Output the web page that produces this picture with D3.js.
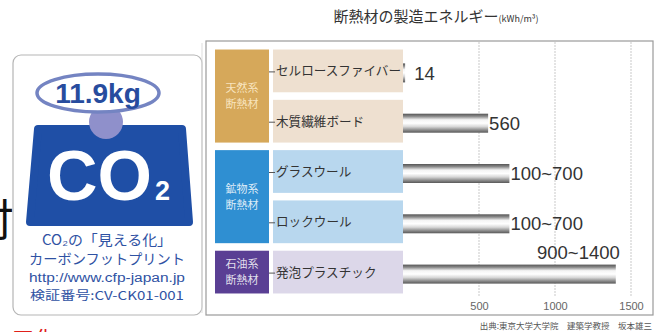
<!DOCTYPE html>
<html>
<head>
<meta charset="utf-8">
<script src="https://cdn.jsdelivr.net/npm/d3@7"></script>
<style>
body { margin: 0; background: #fff; }
svg { display: block; font-family: "Noto Sans CJK JP", sans-serif; }
</style>
</head>
<body>
<div id="chart"></div>
<script>
// data
var categories = ["セルロースファイバー", "木質繊維ボード", "グラスウール", "ロックウール", "発泡プラスチック"];
var minValues = [14, 560, 100, 100, 900];
var maxValues = [14, 560, 700, 700, 1400];
var valueLabels = ["14", "560", "100~700", "100~700", "900~1400"];
var groupNames = [["天然系", "断熱材"], ["鉱物系", "断熱材"], ["石油系", "断熱材"]];
var groupOf = [0, 0, 1, 1, 2];
var tickValues = [500, 1000, 1500];

var W = 660, H = 332;
var groupColors = ["#d6a85a", "#2f8fd2", "#5a3f94"];
var rowColors = ["#eee0d0", "#b8d7ee", "#dcd7e9"];
var numFont = '"Liberation Sans", Arial, sans-serif';

var svg = d3.select("#chart").append("svg")
    .attr("width", W)
    .attr("height", H);

var defs = svg.append("defs");
var grad = defs.append("linearGradient")
    .attr("id", "tube")
    .attr("x1", 0).attr("y1", 0).attr("x2", 0).attr("y2", 1);
[[0, "#555"], [0.14, "#8a8a8a"], [0.32, "#f4f4f4"], [0.5, "#ffffff"], [0.68, "#d8d8d8"], [0.86, "#8c8c8c"], [1, "#585858"]]
    .forEach(function(s) {
        grad.append("stop").attr("offset", s[0]).attr("stop-color", s[1]);
    });

// ---------- left badge ----------
var badge = svg.append("g");
badge.append("text")
    .attr("x", -30).attr("y", 236)
    .style("font-size", "44px")
    .attr("fill", "#111")
    .text("付");
badge.append("text")
    .attr("x", 12).attr("y", 347)
    .style("font-size", "22px")
    .attr("fill", "#e0201a")
    .text("工化");

badge.append("rect")
    .attr("x", 13).attr("y", 55)
    .attr("width", 189).attr("height", 260)
    .attr("rx", 8)
    .attr("fill", "#fff")
    .attr("stroke", "#b5b5b5")
    .attr("stroke-width", 1.2);

badge.append("polygon")
    .attr("points", "38,129 182,129 189,222 30,222")
    .attr("fill", "#1f4fa6")
    .attr("stroke", "#1f4fa6")
    .attr("stroke-width", 8)
    .attr("stroke-linejoin", "round");

badge.append("circle")
    .attr("cx", 106).attr("cy", 122).attr("r", 17)
    .attr("fill", "#8f90cb");

badge.append("ellipse")
    .attr("cx", 98).attr("cy", 93)
    .attr("rx", 61).attr("ry", 19)
    .attr("fill", "#fff")
    .attr("stroke", "#7484c2")
    .attr("stroke-width", 3.5);

badge.append("text")
    .attr("x", 98).attr("y", 103)
    .attr("text-anchor", "middle")
    .style("font-family", numFont)
    .style("font-size", "28px")
    .style("font-weight", "bold")
    .attr("fill", "#274c9e")
    .text("11.9kg");

badge.append("text")
    .attr("x", 47).attr("y", 200)
    .attr("textLength", 105)
    .attr("lengthAdjust", "spacingAndGlyphs")
    .style("font-family", numFont)
    .style("font-size", "70px")
    .style("font-weight", "bold")
    .attr("fill", "#fff")
    .text("CO");
badge.append("text")
    .attr("x", 155).attr("y", 200)
    .style("font-family", numFont)
    .style("font-size", "27px")
    .style("font-weight", "bold")
    .attr("fill", "#fff")
    .text("2");

var badgeLines = [
    { t: "CO₂の「見える化」", y: 245, size: 14, w: 130, fam: null },
    { t: "カーボンフットプリント", y: 264, size: 14, w: 156, fam: null },
    { t: "http://www.cfp-japan.jp", y: 281.5, size: 12, w: 156, fam: numFont },
    { t: "検証番号:CV-CK01-001", y: 300, size: 12, w: 154, fam: null }
];
badge.selectAll("text.line")
    .data(badgeLines)
    .enter().append("text")
    .attr("class", "line")
    .attr("x", 107)
    .attr("y", function(d) { return d.y; })
    .attr("text-anchor", "middle")
    .attr("textLength", function(d) { return d.w; })
    .attr("lengthAdjust", "spacingAndGlyphs")
    .style("font-size", function(d) { return d.size + "px"; })
    .style("font-family", function(d) { return d.fam; })
    .attr("fill", "#2f52a3")
    .text(function(d) { return d.t; });

// ---------- chart ----------
svg.append("text")
    .attr("x", 436).attr("y", 22)
    .attr("text-anchor", "middle")
    .attr("fill", "#333")
    .call(function(t) {
        t.append("tspan").style("font-size", "15px").text("断熱材の製造エネルギー");
        t.append("tspan").style("font-size", "9px").text("(kWh/m³)");
    });

svg.append("line")
    .attr("x1", 202).attr("x2", 202).attr("y1", 43).attr("y2", 313)
    .attr("stroke", "#ddd");
svg.append("rect")
    .attr("x", 206).attr("y", 41)
    .attr("width", 447).attr("height", 274)
    .attr("fill", "#fff")
    .attr("stroke", "#9a9a9a")
    .attr("stroke-width", 1.2);

var x = d3.scaleLinear()
    .domain([0, 1500])
    .range([403, 631]);

var y = d3.scaleBand()
    .domain(categories)
    .range([46, 297])
    .paddingInner(0.15)
    .paddingOuter(0.07);

// grid lines
svg.append("g").selectAll("line")
    .data(tickValues)
    .enter().append("line")
    .attr("x1", function(d) { return x(d); })
    .attr("x2", function(d) { return x(d); })
    .attr("y1", 42).attr("y2", 297)
    .attr("stroke", "#c9c9c9")
    .attr("stroke-dasharray", "2,1");

// group panels
var groups = groupNames.map(function(name, g) {
    var rows = categories.filter(function(c, i) { return groupOf[i] === g; });
    return {
        name: name,
        g: g,
        top: y(rows[0]),
        bottom: y(rows[rows.length - 1]) + y.bandwidth()
    };
});

var gp = svg.append("g").selectAll("g")
    .data(groups)
    .enter().append("g");
gp.append("rect")
    .attr("x", 215).attr("width", 54)
    .attr("y", function(d) { return d.top; })
    .attr("height", function(d) { return d.bottom - d.top; })
    .attr("fill", function(d) { return groupColors[d.g]; });
[0, 1].forEach(function(line) {
    gp.append("text")
        .attr("x", 242)
        .attr("text-anchor", "middle")
        .attr("y", function(d) { return (d.top + d.bottom) / 2 + (line === 0 ? -8 : 8); })
        .attr("dy", "0.36em")
        .style("font-size", "11px")
        .attr("fill", function(d) { return d.g === 0 ? "rgba(255,240,210,0.85)" : "rgba(255,255,255,0.85)"; })
        .text(function(d) { return d.name[line]; });
});

// category rows
var rows = svg.append("g").selectAll("g")
    .data(categories)
    .enter().append("g");
rows.append("rect")
    .attr("x", 273).attr("width", 130)
    .attr("y", function(d) { return y(d); })
    .attr("height", y.bandwidth())
    .attr("fill", function(d, i) { return rowColors[groupOf[i]]; });
rows.append("line")
    .attr("x1", 269).attr("x2", 275)
    .attr("y1", function(d) { return y(d) + y.bandwidth() / 2 + 1; })
    .attr("y2", function(d) { return y(d) + y.bandwidth() / 2 + 1; })
    .attr("stroke", "#555");
rows.append("text")
    .attr("x", 276)
    .attr("y", function(d) { return y(d) + y.bandwidth() / 2; })
    .attr("dy", "0.36em")
    .style("font-size", "12.6px")
    .attr("fill", "#333")
    .text(function(d) { return d; });

// bars
var barH = 19;
svg.append("g").selectAll("rect")
    .data(categories)
    .enter().append("rect")
    .attr("x", x(0))
    .attr("y", function(d) { return y(d) + y.bandwidth() / 2 - barH / 2 + 2; })
    .attr("width", function(d, i) { return x(maxValues[i]) - x(0); })
    .attr("height", barH)
    .attr("fill", "url(#tube)");

// value labels
svg.append("g").selectAll("text")
    .data(categories)
    .enter().append("text")
    .style("font-family", numFont)
    .style("font-size", "18.5px")
    .attr("fill", "#333")
    .each(function(d, i) {
        var t = d3.select(this).text(valueLabels[i]);
        var cy = y(d) + y.bandwidth() / 2 + 2;
        var endX = x(maxValues[i]);
        if (minValues[i] !== maxValues[i] && endX > 600) {
            // no room on the right: sit above the bar
            t.attr("x", endX + 4).attr("y", cy - barH / 2 - 6).attr("text-anchor", "end");
        } else {
            t.attr("x", endX + (maxValues[i] < 50 ? 9 : 1)).attr("y", cy).attr("dy", "0.36em");
        }
    });

// axis labels
var xAxis = d3.axisBottom(x)
    .tickValues(tickValues)
    .tickFormat(d3.format("d"))
    .tickSize(0);
var ax = svg.append("g")
    .attr("transform", "translate(0,299)")
    .call(xAxis);
ax.select(".domain").remove();
ax.selectAll("text")
    .style("font-family", numFont)
    .style("font-size", "11px")
    .attr("fill", "#666");

svg.append("text")
    .attr("x", 652).attr("y", 329)
    .attr("text-anchor", "end")
    .style("font-size", "8.5px")
    .attr("fill", "#555")
    .text("出典:東京大学大学院　建築学教授　坂本雄三");
</script>
</body>
</html>
